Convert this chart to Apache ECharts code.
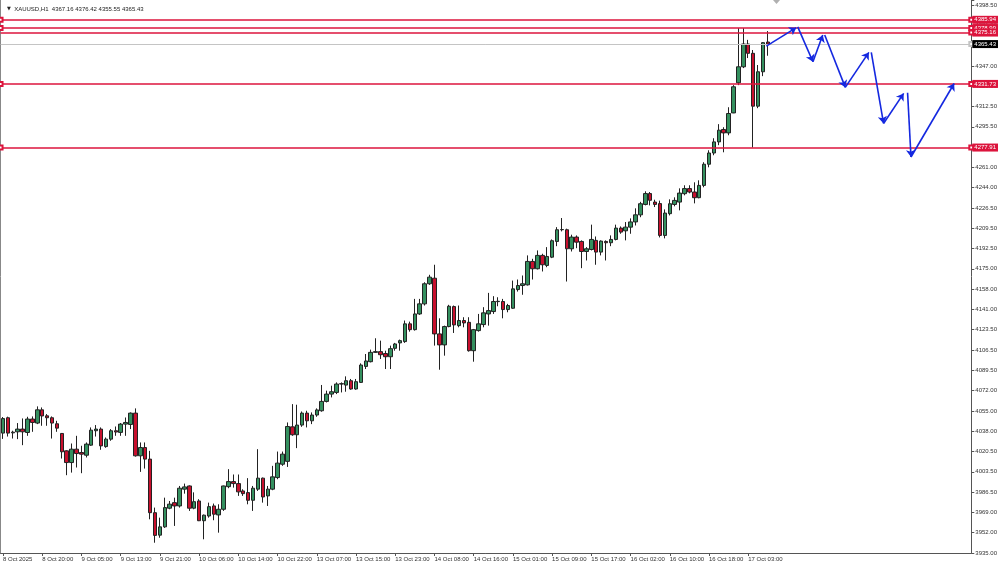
<!DOCTYPE html>
<html><head><meta charset="utf-8">
<script src="https://cdn.jsdelivr.net/npm/echarts@6/dist/echarts.min.js"></script>
<style>html,body{margin:0;padding:0;background:#fff}#c{width:1000px;height:567px}</style>
</head><body><div id="c"></div>
<script>
const symbolName = 'XAUUSD,H1';
const sessionDays = ['8 Oct','9 Oct','10 Oct','13 Oct','14 Oct','15 Oct','16 Oct','17 Oct'];
const firstDayLabel = '8 Oct 2025';
const firstBarHour = 12;
const totalSlots = 198;

const opens = [4036.4,4049.4,4036.6,4037.5,4039.8,4036.9,4048.3,4044.9,4056.1,4051.0,4049.4,4044.3,4036.1,4021.4,4011.5,4022.8,4020.0,4017.7,4026.2,4038.4,
4039.8,4025.0,4031.3,4038.4,4037.0,4044.0,4043.7,4053.3,4017.2,4024.2,4014.4,3969.1,3950.1,3957.1,3972.9,3977.6,3974.8,3989.0,3991.7,3972.9,
3979.0,3962.3,3966.3,3974.8,3967.2,3972.0,3991.1,3995.4,3993.7,3987.5,3986.1,3979.6,3989.0,3998.3,3983.3,3989.0,3998.8,4010.1,4012.5,4041.7,
4035.0,4043.2,4053.3,4046.8,4051.7,4055.3,4063.2,4069.4,4070.8,4077.9,4077.0,4080.7,4073.7,4079.3,4092.8,4096.8,4104.7,4105.3,4103.7,4101.0,
4108.1,4112.7,4113.8,4128.8,4123.9,4137.2,4145.7,4162.7,4167.4,4120.3,4111.0,4126.5,4143.4,4127.3,4131.6,4130.1,4106.1,4123.1,4128.2,4137.2,
4139.2,4147.6,4147.7,4140.9,4142.0,4157.8,4161.2,4161.8,4181.6,4175.4,4186.7,4178.2,4185.2,4198.5,4208.4,4208.4,4192.3,4202.2,4198.5,4190.0,
4191.7,4199.4,4189.5,4198.5,4197.4,4200.2,4209.8,4207.5,4210.6,4215.0,4221.0,4229.8,4239.0,4231.8,4230.5,4203.6,4222.0,4229.8,4231.8,4238.9,
4243.2,4240.3,4235.5,4245.9,4263.8,4273.3,4282.7,4293.2,4290.3,4307.2,4332.7,4346.2,4365.5,4357.6,4312.9,4342.0,4367.16];
const highs = [4050.0,4050.3,4038.4,4044.9,4048.8,4050.2,4050.5,4059.0,4058.1,4052.5,4050.5,4046.8,4036.5,4021.9,4027.6,4034.1,4025.7,4028.5,4041.2,4043.2,
4041.2,4032.7,4039.8,4042.0,4044.9,4049.6,4053.9,4057.3,4028.5,4028.5,4021.4,3973.4,3964.9,3981.8,3979.0,3981.8,3991.7,3993.7,3992.2,3986.3,
3980.5,3967.5,3977.6,3976.8,3976.2,3992.0,4005.9,4001.4,4001.4,3988.9,3998.3,3991.7,4022.8,3998.8,3991.7,4008.7,4020.8,4020.8,4045.4,4060.9,
4060.4,4054.7,4055.3,4053.9,4057.3,4077.1,4072.3,4076.5,4079.3,4079.3,4084.4,4082.2,4082.2,4095.4,4103.3,4107.0,4116.6,4114.6,4106.1,4110.4,
4112.7,4115.5,4131.6,4130.7,4149.9,4149.9,4164.0,4170.3,4178.8,4133.5,4127.3,4144.9,4144.3,4144.3,4134.4,4134.4,4124.5,4137.2,4142.9,4155.0,
4152.2,4151.3,4149.9,4145.7,4165.4,4166.3,4169.7,4186.7,4183.8,4190.9,4188.1,4193.7,4200.2,4210.6,4218.3,4209.3,4204.2,4203.6,4199.4,4193.7,
4212.7,4202.7,4199.4,4199.4,4203.6,4212.7,4211.2,4214.9,4218.0,4226.5,4232.0,4240.9,4240.3,4233.8,4233.0,4225.6,4234.1,4235.8,4243.4,4246.0,
4246.0,4248.5,4250.2,4265.5,4275.6,4285.8,4297.7,4295.1,4312.0,4330.7,4378.9,4378.9,4369.0,4360.4,4347.7,4367.1,4376.42];
const lows = [4031.5,4033.5,4031.8,4031.3,4026.2,4034.1,4037.5,4044.0,4042.6,4042.6,4031.8,4037.5,4014.9,4000.8,4003.0,4007.3,4002.5,4015.8,4025.6,4033.5,
4022.3,4024.0,4029.9,4034.1,4034.1,4034.1,4039.8,4016.5,4003.6,4006.4,3963.5,3943.7,3947.9,3956.2,3972.0,3957.9,3973.4,3985.2,3970.6,3972.0,
3962.0,3946.6,3964.9,3962.7,3952.2,3970.6,3989.8,3990.3,3983.3,3983.3,3976.2,3970.6,3987.5,3977.6,3974.8,3988.1,3997.4,4008.7,4007.8,4034.1,
4023.7,4041.7,4041.2,4044.0,4050.2,4054.5,4062.3,4066.6,4069.4,4070.8,4071.4,4073.1,4073.1,4078.8,4090.6,4096.2,4104.2,4099.1,4090.6,4090.6,
4106.1,4106.1,4112.7,4122.2,4123.1,4136.4,4144.3,4161.8,4110.4,4090.0,4101.9,4125.9,4121.1,4125.9,4125.9,4105.3,4096.8,4122.2,4125.9,4127.3,
4137.2,4143.7,4133.5,4138.6,4141.5,4156.1,4153.4,4161.2,4166.3,4174.8,4173.1,4176.7,4184.4,4194.5,4207.0,4164.6,4190.0,4192.8,4175.9,4182.4,
4190.9,4178.8,4186.7,4182.4,4194.5,4199.4,4205.0,4199.4,4205.0,4212.0,4219.0,4229.0,4229.0,4227.6,4201.9,4201.1,4220.5,4228.2,4224.8,4237.5,
4239.2,4230.7,4235.0,4244.3,4261.2,4271.4,4279.9,4273.9,4288.3,4307.0,4330.7,4345.1,4353.6,4277.9,4311.2,4338.3,4355.55];
const closes = [4048.7,4036.4,4037.2,4039.8,4037.5,4048.3,4045.4,4056.1,4050.9,4049.4,4044.9,4040.6,4020.6,4011.5,4022.8,4019.1,4018.6,4027.1,4038.9,4039.8,
4025.6,4031.3,4038.4,4037.3,4044.0,4045.4,4053.3,4017.2,4024.2,4014.4,3969.1,3949.9,3957.1,3973.4,3976.3,3974.8,3989.8,3990.9,3972.9,3978.4,
3962.3,3967.0,3974.2,3967.8,3972.0,3991.7,3995.4,3993.7,3986.7,3985.2,3979.6,3989.8,3998.3,3982.4,3989.0,3999.4,4011.0,4018.6,4042.0,4035.0,
4043.2,4053.3,4046.8,4051.7,4056.0,4063.2,4069.4,4071.4,4077.9,4078.2,4080.7,4073.7,4079.9,4094.0,4097.4,4104.7,4105.3,4102.7,4101.0,4107.8,
4111.8,4114.6,4128.8,4123.9,4137.2,4145.7,4162.7,4168.3,4120.3,4111.0,4126.5,4143.7,4127.9,4131.6,4129.6,4106.1,4123.9,4128.8,4138.1,4140.0,
4147.7,4147.9,4140.9,4144.3,4158.4,4161.2,4162.7,4181.6,4175.4,4186.7,4178.8,4185.8,4199.1,4208.4,4208.6,4192.3,4202.2,4197.9,4190.0,4192.3,
4200.2,4189.5,4198.8,4197.4,4200.2,4209.8,4206.4,4210.6,4215.0,4221.0,4230.4,4239.0,4233.3,4229.8,4203.6,4222.5,4230.4,4233.2,4239.4,4243.2,
4240.3,4235.5,4245.9,4263.8,4273.3,4282.7,4292.6,4290.3,4306.7,4329.3,4346.2,4365.5,4357.6,4312.9,4342.0,4366.6,4365.43];

const yTickLabels = ['3935.00','3952.00','3969.00','3986.50','4003.50','4020.50','4038.00','4055.00','4072.00','4089.50','4106.50','4123.50','4141.00','4158.00',
'4175.00','4192.50','4209.50','4226.50','4244.00','4261.00','4278.00','4295.50','4312.50','4329.50','4347.00','4364.00','4381.00','4398.50'];
const priceMin = 3935.0, priceMax = 4402.7, tickTop = 4398.5;

const anchoredLevels = [4385.94, 4378.99, 4331.73, 4277.91];
const plainLevels = [4375.16];
const bidPrice = 4365.43;

// forecast path segments: [barIndexFrom, priceFrom, barIndexTo, priceTo]
const forecastSegments = [
  [155.7,4363.7,161.8,4379.3],
  [162.1,4380.0,165.2,4350.5],
  [165.2,4350.5,167.2,4373.1],
  [167.6,4373.1,171.8,4328.8],
  [171.8,4328.8,176.6,4358.4],
  [177.1,4358.4,179.6,4298.3],
  [179.6,4298.3,183.7,4323.7],
  [184.5,4324.2,185.2,4269.9],
  [185.2,4269.9,194.0,4332.1]
];

// build categories (H1 bars, no 00:00 bar)
const barTimes = [];
sessionDays.forEach((d, di) => {
  for (let h = (di === 0 ? firstBarHour : 1); h <= 23; h++) {
    if (barTimes.length < opens.length) barTimes.push(d + ' ' + String(h).padStart(2,'0') + ':00');
  }
});
const categories = [];
for (let i = 0; i < totalSlots; i++) categories.push(i < barTimes.length ? (i === 0 ? firstDayLabel : barTimes[i]) : '');
const candleData = opens.map((o, i) => [o, closes[i], lows[i], highs[i]]);
const n = opens.length;
const tickStep = (tickTop - priceMin) / (yTickLabels.length - 1);
const fmt2 = v => Number(v).toFixed(2);
const FONT = 'Liberation Sans';
const RED = '#dc143c';

const chart = echarts.init(document.getElementById('c'), null, {renderer: 'canvas'});
const showIdx = i => i % 8 === 0 && i < n;

chart.setOption({
  animation: false,
  backgroundColor: '#ffffff',
  title: {
    text: '{t|▼}  ' + symbolName + '  ' + [opens[n-1], highs[n-1], lows[n-1], closes[n-1]].map(fmt2).join(' '),
    left: 2, top: 1,
    textStyle: {fontFamily: FONT, fontSize: 6, fontWeight: 'normal', color: '#222',
      rich: {t: {fontSize: 5, color: '#222', fontFamily: 'DejaVu Sans'}}}
  },
  grid: {left: 0, right: 28, top: 0, bottom: 14, containLabel: false},
  xAxis: [{
    type: 'category', data: categories, boundaryGap: true,
    axisLine: {show: true, lineStyle: {color: '#555', width: 1}},
    axisTick: {show: true, length: 3, alignWithLabel: true, interval: showIdx, lineStyle: {color: '#555'}},
    axisLabel: {interval: showIdx, align: 'left', margin: 3, fontSize: 6, fontFamily: FONT, color: '#333', hideOverlap: false},
    splitLine: {show: false}
  }, {
    type: 'value', min: -0.5, max: totalSlots - 0.5, show: false
  }],
  yAxis: [{
    type: 'value', min: priceMin, max: priceMax, show: false, scale: true
  }, {
    type: 'value', min: 0, max: (priceMax - priceMin) / tickStep, interval: 1, position: 'right',
    axisLine: {show: true, lineStyle: {color: '#555', width: 1}},
    axisTick: {show: true, inside: false, length: 3, lineStyle: {color: '#555'}},
    axisLabel: {margin: 4, fontSize: 6, fontFamily: FONT, color: '#333',
      formatter: v => { const k = Math.round(v); return Math.abs(v - k) < 0.01 ? (yTickLabels[k] || '') : ''; }},
    splitLine: {show: false}
  }, {
    type: 'value', min: 0, max: 1, position: 'left', show: true,
    axisLine: {show: true, lineStyle: {color: '#888', width: 1}},
    axisTick: {show: false}, axisLabel: {show: false}, splitLine: {show: false}
  }],
  graphic: [{
    type: 'polygon', shape: {points: [[773, 0], [780, 0], [776.5, 4]]}, style: {fill: '#b0b0b0'}, silent: true
  }],
  series: [{
    type: 'candlestick', name: symbolName, xAxisIndex: 0, yAxisIndex: 0,
    data: candleData, barWidth: 4,
    itemStyle: {color: '#34905f', color0: '#c8102e', borderColor: '#222', borderColor0: '#222', borderWidth: 1},
    markLine: {
      silent: true, animation: false,
      symbol: ['emptyRect', 'emptyRect'], symbolSize: 4,
      lineStyle: {color: RED, width: 1.5, type: 'solid'},
      label: {show: true, position: 'end', distance: 1, formatter: p => fmt2(p.value),
        backgroundColor: RED, color: '#fff', fontSize: 6, fontFamily: FONT, padding: [1, 2, 1, 2]},
      data: [
        {yAxis: bidPrice, symbol: 'none', lineStyle: {color: '#c4c4c4', width: 1},
          label: {backgroundColor: '#000', color: '#fff'}},
        ...anchoredLevels.map(v => ({yAxis: v})),
        ...plainLevels.map(v => ({yAxis: v, symbol: 'none'}))
      ]
    }
  }, {
    type: 'lines', coordinateSystem: 'cartesian2d', xAxisIndex: 1, yAxisIndex: 0,
    symbol: ['none', 'arrow'], symbolSize: 7, silent: true,
    lineStyle: {color: '#1428e0', width: 1.6, opacity: 1, curveness: 0},
    data: forecastSegments.map(s => ({coords: [[s[0], s[1]], [s[2], s[3]]]})),
    z: 5
  }]
});
</script></body></html>
